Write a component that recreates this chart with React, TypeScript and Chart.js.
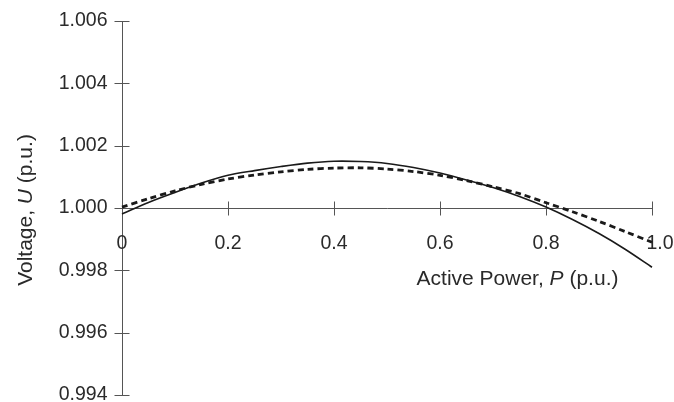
import React, { useEffect, useRef } from "react";
import { Chart, registerables } from "chart.js";

Chart.register(...registerables);

// ---- data ----
const powerP = [0, 0.05, 0.1, 0.15, 0.2, 0.25, 0.3, 0.35, 0.4, 0.45, 0.5, 0.55, 0.6, 0.65, 0.7, 0.75, 0.8, 0.85, 0.9, 0.95, 1.0];
const voltageSolid = [0.99981, 1.00018, 1.0005, 1.0008, 1.00105, 1.0012, 1.00133, 1.00144, 1.0015, 1.00149, 1.00143, 1.0013, 1.00112, 1.0009, 1.00066, 1.00037, 1.00003, 0.99963, 0.99918, 0.99867, 0.9981];
const voltageDashed = [1.00003, 1.0003, 1.00055, 1.00076, 1.00093, 1.00106, 1.00116, 1.00124, 1.00128, 1.00129, 1.00125, 1.00117, 1.00105, 1.00088, 1.00068, 1.00046, 1.00017, 0.99988, 0.99957, 0.99924, 0.9989];
const xTickValues = [0, 0.2, 0.4, 0.6, 0.8, 1.0];
const xTickLabels = ["0", "0.2", "0.4", "0.6", "0.8", "1.0"];
const yTickValues = [0.994, 0.996, 0.998, 1.0, 1.002, 1.004, 1.006];
const yTickLabels = ["0.994", "0.996", "0.998", "1.000", "1.002", "1.004", "1.006"];
const xTitleParts: [string, boolean][] = [["Active Power, ", false], ["P", true], [" (p.u.)", false]];
const yTitleParts: [string, boolean][] = [["Voltage, ", false], ["U", true], [" (p.u.)", false]];

const FONT_FAMILY = "'Liberation Sans', Arial, sans-serif";
const TICK_FONT_SIZE = 19.5;
const TITLE_FONT_SIZE = 21;
const TEXT_COLOR = "#2a2a2a";
const AXIS_COLOR = "#555555";

function drawText(ctx: CanvasRenderingContext2D, text: string, x: number, y: number, align: CanvasTextAlign, baseline: CanvasTextBaseline) {
  ctx.save();
  ctx.font = `${TICK_FONT_SIZE}px ${FONT_FAMILY}`;
  ctx.textAlign = align;
  ctx.textBaseline = baseline;
  ctx.fillStyle = TEXT_COLOR;
  ctx.fillText(text, x, y);
  ctx.restore();
}

function drawParts(ctx: CanvasRenderingContext2D, parts: [string, boolean][]) {
  let total = 0;
  const widths: number[] = [];
  for (const [t, it] of parts) {
    ctx.font = `${it ? "italic " : ""}${TITLE_FONT_SIZE}px ${FONT_FAMILY}`;
    const w = ctx.measureText(t).width;
    widths.push(w);
    total += w;
  }
  let x = -total / 2;
  ctx.textAlign = "left";
  ctx.textBaseline = "alphabetic";
  ctx.fillStyle = TEXT_COLOR;
  parts.forEach(([t, it], i) => {
    ctx.font = `${it ? "italic " : ""}${TITLE_FONT_SIZE}px ${FONT_FAMILY}`;
    ctx.fillText(t, x, 0);
    x += widths[i];
  });
}

const crossAxesPlugin = {
  id: "crossAxes",
  beforeDatasetsDraw(chart: any) {
    const ctx: CanvasRenderingContext2D = chart.ctx;
    const xs = chart.scales.x;
    const ys = chart.scales.y;
    const ax = Math.round(xs.getPixelForValue(0)) + 0.5;
    const ay = Math.round(ys.getPixelForValue(1.0)) + 0.5;
    const yTop = ys.getPixelForValue(yTickValues[yTickValues.length - 1]);
    const yBot = ys.getPixelForValue(yTickValues[0]);
    const xRight = xs.getPixelForValue(xTickValues[xTickValues.length - 1]);

    ctx.save();
    ctx.strokeStyle = AXIS_COLOR;
    ctx.lineWidth = 1;
    ctx.beginPath();
    ctx.moveTo(ax, yTop);
    ctx.lineTo(ax, yBot);
    ctx.moveTo(ax, ay);
    ctx.lineTo(xRight, ay);
    yTickValues.forEach((v) => {
      const py = Math.round(ys.getPixelForValue(v)) + 0.5;
      ctx.moveTo(ax - 8, py);
      ctx.lineTo(ax + 7, py);
    });
    xTickValues.forEach((v, i) => {
      if (i === 0) return;
      const px = Math.round(xs.getPixelForValue(v)) + 0.5;
      ctx.moveTo(px, ay - 7);
      ctx.lineTo(px, ay + 7);
    });
    ctx.stroke();
    ctx.restore();

    yTickValues.forEach((v, i) => {
      drawText(ctx, yTickLabels[i], ax - 15, ys.getPixelForValue(v), "right", "middle");
    });
    xTickValues.forEach((v, i) => {
      const px = xs.getPixelForValue(v) + (i === xTickValues.length - 1 ? 8 : 0);
      drawText(ctx, xTickLabels[i], px, ay + 40, "center", "alphabetic");
    });

    ctx.save();
    ctx.translate(xRight - 134.5, ay + 76);
    drawParts(ctx, xTitleParts);
    ctx.restore();

    ctx.save();
    ctx.translate(32, (yTop + yBot) / 2 + 2);
    ctx.rotate(-Math.PI / 2);
    drawParts(ctx, yTitleParts);
    ctx.restore();
  },
};

export default function App() {
  const canvasRef = useRef<HTMLCanvasElement | null>(null);

  useEffect(() => {
    document.body.style.margin = "0";
    const canvas = canvasRef.current;
    if (!canvas) return;
    const chart = new Chart(canvas, {
      type: "line",
      data: {
        labels: powerP,
        datasets: [
          {
            label: "solid",
            data: powerP.map((p, i) => ({ x: p, y: voltageSolid[i] })),
            borderColor: "#1a1a1a",
            borderWidth: 1.6,
            pointRadius: 0,
            tension: 0.3,
            fill: false,
            clip: false as any,
          },
          {
            label: "dashed",
            data: powerP.map((p, i) => ({ x: p, y: voltageDashed[i] })),
            borderColor: "#1a1a1a",
            borderWidth: 2.8,
            borderDash: [6, 4],
            pointRadius: 0,
            tension: 0.3,
            fill: false,
            clip: false as any,
          },
        ],
      },
      options: {
        animation: false,
        responsive: false,
        maintainAspectRatio: false,
        layout: { padding: { left: 122, right: 22, top: 21, bottom: 7 } },
        plugins: { legend: { display: false }, tooltip: { enabled: false } },
        scales: {
          x: { type: "linear", min: 0, max: 1, display: false },
          y: { type: "linear", min: 0.994, max: 1.006, display: false },
        },
      },
      plugins: [crossAxesPlugin],
    });
    return () => chart.destroy();
  }, []);

  return (
    <div style={{ width: 674, height: 402, background: "#fff" }}>
      <canvas ref={canvasRef} width={674} height={402} style={{ display: "block" }} />
    </div>
  );
}
